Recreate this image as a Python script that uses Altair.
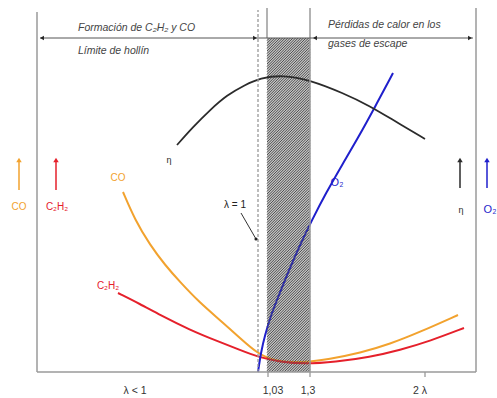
import altair as alt
import pandas as pd

# ---- data (x position, level) ----
eta_x = [177, 193, 210, 227, 245, 260, 283, 310, 343, 370, 393, 425]
eta_y = [227, 245, 262, 277, 287, 294, 297, 292, 279, 266, 252, 233]

o2_x = [258, 261, 265, 271, 279, 289, 300, 312, 326, 342, 358, 375, 393]
o2_y = [0, 20, 37, 57, 77, 102, 127, 152, 179, 207, 234, 265, 299]

co_x = [123, 135, 150, 165, 180, 200, 220, 240, 258, 275, 300, 330, 360, 390, 420, 458]
co_y = [180, 152, 127, 107, 90, 69, 52, 34, 18, 11, 9, 13, 19, 28, 40, 57]

hc_x = [118, 140, 160, 190, 217, 240, 258, 280, 305, 335, 370, 400, 430, 464]
hc_y = [79, 68, 57, 42, 31, 22, 15, 10, 8, 10, 15, 22, 31, 44]

tick_pos = [135, 273, 308, 420]
tick_labels = ["λ < 1", "1,03", "1,3", "2 λ"]

band_x = [267, 310]   # hatched zone λ 1,03 … 1,3
band_top = 334
lambda1_x = 258

ORANGE = "#f2a22e"
RED = "#e5202b"
BLUE = "#1f1fcc"
BLACK = "#2b2b2b"
GRAY = "#9a9a9a"
FONT = "Liberation Sans"

X = alt.X("x:Q", scale=alt.Scale(domain=[37, 476], nice=False, zero=False), axis=None)
Y = alt.Y("y:Q", scale=alt.Scale(domain=[0, 367], nice=False, zero=False), axis=None)


def curve(xs, ys, color, width=2.0):
    df = pd.DataFrame({"x": xs, "y": ys})
    return alt.Chart(df).mark_line(color=color, strokeWidth=width, interpolate="basis").encode(x=X, y=Y)


def segs(rows, color, width=1.4, dash=None):
    df = pd.DataFrame(rows, columns=["x", "y", "x2", "y2"])
    kw = dict(color=color, strokeWidth=width)
    if dash:
        kw["strokeDash"] = dash
    return alt.Chart(df).mark_rule(**kw).encode(x=X, y=Y, x2="x2:Q", y2="y2:Q")


def pts(rows, shape, color, size=22):
    df = pd.DataFrame(rows, columns=["x", "y"])
    return alt.Chart(df).mark_point(shape=shape, filled=True, color=color, size=size, opacity=1).encode(x=X, y=Y)


def txt(rows, color, size=10, align="center", style="normal", baseline="middle"):
    df = pd.DataFrame(rows, columns=["x", "y", "t"])
    return alt.Chart(df).mark_text(color=color, fontSize=size, align=align, baseline=baseline,
                                   fontStyle=style, font=FONT).encode(x=X, y=Y, text="t:N")


# hatched band
band = alt.Chart(pd.DataFrame({"x": [band_x[0]], "x2": [band_x[1]], "y": [0], "y2": [band_top]})).mark_rect(
    color="#c2c2c2").encode(x=X, x2="x2:Q", y=Y, y2="y2:Q")

hatch_rows = []
w = band_x[1] - band_x[0]
c = -w
step = 2.6
while c < band_top:
    x0 = band_x[0] + max(0, -c)
    y0 = (x0 - band_x[0]) + c
    x1 = min(band_x[1], band_x[0] + band_top - c)
    y1 = (x1 - band_x[0]) + c
    if x1 > x0:
        hatch_rows.append([x0, y0, x1, y1])
    c += step
hatch = segs(hatch_rows, "#505050", width=1.0)

frame = segs([
    [37, 0, 476, 0],
    [37, 0, 37, 360],
    [476, 0, 476, 364],
    [310, 0, 310, 364],
    [267, band_top, 267, 364],
], GRAY, width=1.5)

ticks = segs([[268, 0, 268, -5], [310, 0, 310, -5], [425, 0, 425, -5]], GRAY, width=1.3)

dashed = segs([[lambda1_x, 0, lambda1_x, 362]], "#999999", width=1.3, dash=[3, 2])

topline = segs([[40, band_top, 473, band_top]], "#555555", width=1.0)
top_heads = (pts([[42, band_top], [315, band_top]], "triangle-left", "#222", 20)
             + pts([[255, band_top], [470, band_top]], "triangle-right", "#222", 20))

side = (segs([[19, 182, 19, 210]], ORANGE, 1.5) + pts([[19, 212]], "triangle-up", ORANGE, 30)
        + segs([[56, 182, 56, 210]], RED, 1.5) + pts([[56, 212]], "triangle-up", RED, 30)
        + segs([[460, 184, 460, 210]], BLACK, 1.5) + pts([[460, 212]], "triangle-up", BLACK, 30)
        + segs([[487, 184, 487, 210]], BLUE, 1.5) + pts([[487, 212]], "triangle-up", BLUE, 30))

leader = segs([[241, 159, 256, 133]], "#333", 1.0) + pts([[256, 133]], "circle", "#222", 10)

texts = (
    txt([[78, 344, "Formación de C₂H₂ y CO"], [78, 321, "Límite de hollín"],
         [328, 347, "Pérdidas de calor en los"], [328, 328, "gases de escape"]],
        "#444444", size=10.5, align="left", style="italic")
    + txt([[19, 165, "CO"], [118, 194, "CO"]], ORANGE, size=10)
    + txt([[57, 165, "C₂H₂"], [108, 86, "C₂H₂"]], RED, size=10)
    + txt([[461, 162, "η"], [169, 212, "η"]], BLACK, size=9)
    + txt([[490, 162, "O₂"], [337, 189, "O₂"]], BLUE, size=11)
    + txt([[235, 167, "λ = 1"]], "#222", size=10)
    + txt([[p, -19, t] for p, t in zip(tick_pos, tick_labels)], "#333333", size=10.5)
)

chart = alt.layer(
    band,
    curve(co_x, co_y, ORANGE),
    curve(hc_x, hc_y, RED),
    curve(o2_x, o2_y, BLUE),
    hatch,
    curve(eta_x, eta_y, BLACK, 1.8),
    frame, ticks, dashed, topline, top_heads, side, leader, texts,
).properties(
    width=439, height=367,
    padding={"left": 37, "top": 5, "right": 21, "bottom": 26},
    autosize="none",
).configure_view(strokeWidth=0)

chart.save("out.html", embed_options={"renderer": "svg", "actions": False})
